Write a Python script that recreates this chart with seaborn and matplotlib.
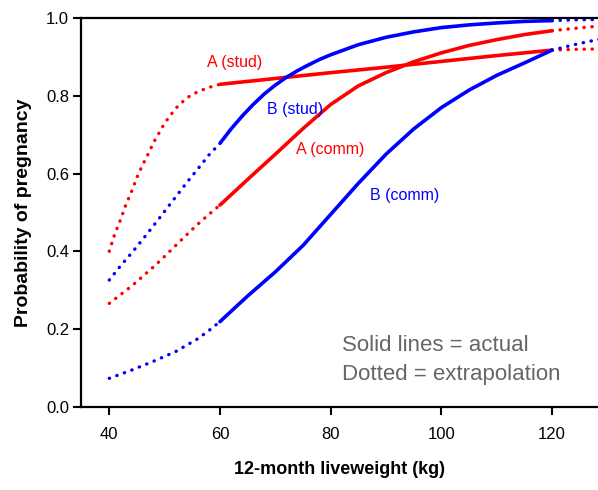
import numpy as np
import pandas as pd
import matplotlib
matplotlib.use("Agg")
import matplotlib.pyplot as plt
import seaborn as sns

# liveweight (kg) / probability pairs
a_stud_x = [40, 41, 42, 43, 44, 45, 46, 47, 48, 49, 50, 52, 54, 56, 58, 60,
            70, 80, 90, 100, 110, 120, 124, 128.5]
a_stud_y = [0.40, 0.445, 0.48, 0.52, 0.553, 0.59, 0.622, 0.65, 0.68, 0.705, 0.73,
            0.768, 0.795, 0.811, 0.822, 0.83,
            0.845, 0.86, 0.874, 0.889, 0.904, 0.918, 0.92, 0.921]

b_stud_x = [40, 42, 44, 46, 48, 50, 52, 54, 56, 58, 60, 62, 64, 66, 68, 70, 72, 74,
            76, 78, 80, 85, 90, 95, 100, 105, 110, 115, 120, 124, 128.5]
b_stud_y = [0.326, 0.362, 0.395, 0.43, 0.466, 0.503, 0.54, 0.577, 0.612, 0.648, 0.678,
            0.715, 0.748, 0.778, 0.805, 0.828, 0.848, 0.865, 0.88, 0.894, 0.906,
            0.932, 0.951, 0.965, 0.976, 0.983, 0.988, 0.992, 0.994, 0.996, 0.997]

a_comm_x = [40, 42, 44, 46, 48, 50, 52, 54, 56, 58, 60, 65, 70, 75, 80, 85, 90, 95,
            100, 105, 110, 115, 120, 124, 128.5]
a_comm_y = [0.266, 0.288, 0.31, 0.335, 0.36, 0.387, 0.415, 0.443, 0.47, 0.495, 0.519,
            0.585, 0.65, 0.716, 0.778, 0.826, 0.86, 0.888, 0.911, 0.93, 0.945, 0.958,
            0.968, 0.974, 0.98]

b_comm_x = [40, 44, 48, 52, 56, 58, 60, 65, 70, 75, 80, 85, 90, 95, 100, 105, 110,
            115, 120, 124, 128.5]
b_comm_y = [0.073, 0.094, 0.117, 0.142, 0.175, 0.196, 0.219, 0.285, 0.347, 0.415,
            0.495, 0.575, 0.65, 0.715, 0.77, 0.815, 0.853, 0.885, 0.918, 0.932, 0.946]

# range actually observed (solid); outside = extrapolation (dotted)
obs_lo, obs_hi = 60, 120

curves = [
    ("A (stud)", a_stud_x, a_stud_y, "#ff0000", (62.6, 0.887)),
    ("B (stud)", b_stud_x, b_stud_y, "#0000ff", (73.6, 0.764)),
    ("A (comm)", a_comm_x, a_comm_y, "#ff0000", (79.9, 0.661)),
    ("B (comm)", b_comm_x, b_comm_y, "#0000ff", (93.4, 0.545)),
]

sns.set_style("ticks")
plt.rcParams["font.family"] = ["Liberation Sans", "DejaVu Sans"]

fig = plt.figure(figsize=(5.98, 4.9), dpi=100)
ax = fig.add_axes([0.1355, 0.17, 0.8645, 0.7927])

for name, xs, ys, col, (tx, ty) in curves:
    df = pd.DataFrame({"x": xs, "y": ys})
    low = df[df["x"] <= obs_lo]
    mid = df[(df["x"] >= obs_lo) & (df["x"] <= obs_hi)]
    high = df[df["x"] >= obs_hi]
    for part in (low, high):
        sns.lineplot(data=part, x="x", y="y", ax=ax, color=col, lw=2.4,
                     linestyle=(0, (0.1, 2.3)), dash_capstyle="round", sort=False)
    sns.lineplot(data=mid, x="x", y="y", ax=ax, color=col, lw=2.6, sort=False)
    ax.text(tx, ty, name, color=col, fontsize=11.5, ha="center", va="center")

ax.text(82.1, 0.143, "Solid lines = actual", color="#666666", fontsize=16,
        ha="left", va="baseline")
ax.text(82.1, 0.068, "Dotted = extrapolation", color="#666666", fontsize=16,
        ha="left", va="baseline")

ax.set_xlim(34.9, 128.3)
ax.set_ylim(0, 1.0)
ax.set_xticks([40, 60, 80, 100, 120])
ax.set_yticks([0.0, 0.2, 0.4, 0.6, 0.8, 1.0])
ax.set_yticklabels(["0.0", "0.2", "0.4", "0.6", "0.8", "1.0"])
ax.tick_params(labelsize=12, width=1.5, length=5.5, color="black", labelcolor="black")
ax.tick_params(axis="x", pad=9)
ax.tick_params(axis="y", pad=3)
ax.set_xlabel("12-month liveweight (kg)", fontsize=13, fontweight="bold",
              labelpad=14, color="black")
ax.set_ylabel("Probability of pregnancy", fontsize=14, fontweight="bold",
              labelpad=10, color="black")

for s in ["left", "bottom", "top"]:
    ax.spines[s].set_linewidth(1.6)
    ax.spines[s].set_color("black")
ax.spines["right"].set_visible(False)

fig.savefig("out.png", dpi=100)
